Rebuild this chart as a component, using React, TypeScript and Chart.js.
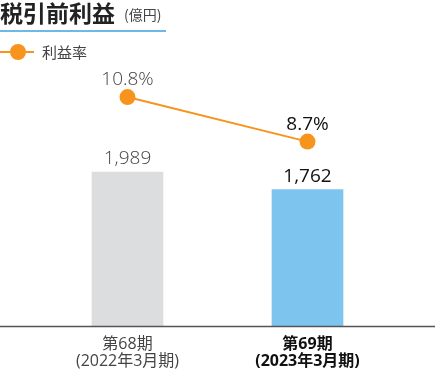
import React, { useEffect, useRef } from "react";
import { Chart, registerables } from "chart.js";

Chart.register(...registerables);

const categories = ["第68期", "第69期"];
const periods = ["(2022年3月期)", "(2023年3月期)"];
const profit = [1989, 1762];
const margin = [10.8, 8.7];
const profitLabels = ["1,989", "1,762"];
const marginLabels = ["10.8%", "8.7%"];
const title = "税引前利益";
const unit = "(億円)";
const legendLabel = "利益率";

const FONT = "'Noto Sans CJK JP', 'Noto Sans', sans-serif";
const NUMFONT = "'Open Sans', 'Noto Sans CJK JP', sans-serif";
const ORANGE = "#f7941d";

const overlay = {
  id: "overlay",
  afterDraw(chart: any) {
    const ctx = chart.ctx;
    const area = chart.chartArea;
    ctx.save();
    // title
    ctx.fillStyle = "#222";
    ctx.textBaseline = "middle";
    ctx.textAlign = "left";
    ctx.font = `bold 23px ${FONT}`;
    ctx.fillText(title, 0, 13);
    ctx.font = `14px ${FONT}`;
    ctx.fillStyle = "#444";
    ctx.fillText(unit, 124, 15);
    ctx.fillStyle = "#6fb8e6";
    ctx.fillRect(0, 30, 166, 2);
    // legend
    ctx.strokeStyle = ORANGE;
    ctx.lineWidth = 2;
    ctx.beginPath();
    ctx.moveTo(0, 52);
    ctx.lineTo(34, 52);
    ctx.stroke();
    ctx.fillStyle = ORANGE;
    ctx.beginPath();
    ctx.arc(18, 52, 8, 0, Math.PI * 2);
    ctx.fill();
    ctx.fillStyle = "#444";
    ctx.font = `15px ${FONT}`;
    ctx.fillText(legendLabel, 42, 52);
    // axis line
    ctx.strokeStyle = "#555";
    ctx.lineWidth = 1.5;
    ctx.beginPath();
    ctx.moveTo(0, area.bottom + 0.5);
    ctx.lineTo(chart.width, area.bottom + 0.5);
    ctx.stroke();
    // value labels
    ctx.textAlign = "center";
    ctx.textBaseline = "alphabetic";
    const barMeta = chart.getDatasetMeta(1);
    barMeta.data.forEach((el: any, i: number) => {
      const last = i === barMeta.data.length - 1;
      ctx.font = last ? `500 19px ${NUMFONT}` : `300 19px ${NUMFONT}`;
      ctx.fillStyle = last ? "#111" : "#444";
      ctx.fillText(profitLabels[i], el.x, el.y - 8);
    });
    const lineMeta = chart.getDatasetMeta(0);
    lineMeta.data.forEach((el: any, i: number) => {
      const last = i === lineMeta.data.length - 1;
      ctx.font = last ? `500 19px ${NUMFONT}` : `300 19px ${NUMFONT}`;
      ctx.fillStyle = last ? "#111" : "#444";
      ctx.fillText(marginLabels[i], el.x, el.y - 12);
    });
    ctx.restore();
  },
};

export default function App() {
  const ref = useRef<HTMLCanvasElement>(null);
  useEffect(() => {
    document.body.style.margin = "0";
    const chart = new Chart(ref.current!, {
      data: {
        labels: categories,
        datasets: [
          {
            type: "line",
            data: margin,
            yAxisID: "y1",
            borderColor: ORANGE,
            backgroundColor: ORANGE,
            borderWidth: 2,
            pointRadius: 8,
            pointHoverRadius: 8,
            pointBorderWidth: 0,
            order: 0,
          },
          {
            type: "bar",
            data: profit,
            yAxisID: "y",
            backgroundColor: ["#dcdddf", "#7dc4ee"],
            barThickness: 71,
            order: 1,
          },
        ],
      } as any,
      options: {
        responsive: false,
        animation: false,
        events: [],
        layout: { padding: { top: 60, left: 37.5, right: 37.5, bottom: 0 } },
        plugins: { legend: { display: false }, tooltip: { enabled: false } },
        scales: {
          x: {
            grid: { display: false },
            border: { display: false },
            afterFit: (s: any) => {
              s.height = 44;
            },
            ticks: {
              padding: 2,
              maxRotation: 0,
              autoSkip: false,
              callback: (_v: any, i: number) => [categories[i], periods[i]],
              font: (c: any) => ({
                family: NUMFONT,
                size: 16,
                weight: c.index === 1 ? "bold" : "normal",
                lineHeight: 1.06,
              }),
              color: (c: any) => (c.index === 1 ? "#111" : "#444"),
            },
          },
          y: { display: false, min: 0, max: 3436 },
          y1: { display: false, min: 0, max: 12.55 },
        },
      } as any,
      plugins: [overlay],
    });
    return () => chart.destroy();
  }, []);
  return <canvas ref={ref} width={435} height={370} />;
}
